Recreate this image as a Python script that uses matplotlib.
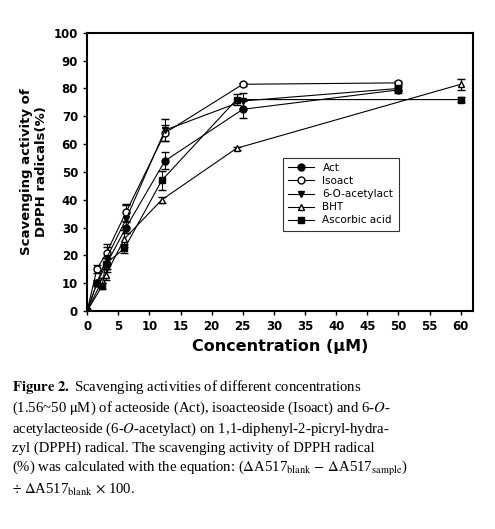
import matplotlib.pyplot as plt
from matplotlib.lines import Line2D

plt.rcParams['mathtext.fontset'] = 'stix'

# concentrations (uM)
x_cmp = [0, 1.56, 3.125, 6.25, 12.5, 25, 50]
x_ref = [0, 2.4, 3, 6, 12, 24, 60]

act = [0, 10, 17, 30, 54, 72.5, 79.5]
act_err = [0, 1, 2, 2, 3, 3, 1]
isoact = [0, 15, 21, 35.5, 64, 81.5, 82]
isoact_err = [0, 1.5, 2, 3, 3, 0.5, 0.5]
acetyl = [0, 10, 19, 33, 65, 75.5, 80]
acetyl_err = [0, 1, 5, 5, 4, 3, 1]
bht = [0, 11, 13, 26, 40, 58.5, 81.5]
bht_err = [0, 1, 2, 3, 1, 0.5, 2]
asc = [0, 9, 17, 22.5, 47, 76, 76]
asc_err = [0, 1, 2, 1.5, 3.5, 2, 1]

fig = plt.figure(figsize=(4.95, 5.29), dpi=100)
ax = fig.add_axes([0.176, 0.412, 0.78, 0.526])

series = [
    (x_cmp, act, act_err, 'o', 'black', 'Act'),
    (x_cmp, isoact, isoact_err, 'o', 'white', 'Isoact'),
    (x_cmp, acetyl, acetyl_err, 'v', 'black', '6-O-acetylact'),
    (x_ref, bht, bht_err, '^', 'white', 'BHT'),
    (x_ref, asc, asc_err, 's', 'black', 'Ascorbic acid'),
]
handles = []
for xs, ys, es, m, fc, lab in series:
    ax.errorbar(xs, ys, yerr=es, marker=m, mfc=fc, mec='black', color='black',
                ms=5, lw=0.8, elinewidth=0.8, capsize=3)
    handles.append(Line2D([], [], marker=m, mfc=fc, mec='black', color='black',
                          ms=5, lw=0.8, label=lab))

ax.set_xlim(0, 62)
ax.set_ylim(0, 100)
ax.set_xticks(range(0, 61, 5))
ax.set_yticks(range(0, 101, 10))
for s in ax.spines.values():
    s.set_linewidth(1.5)
ax.tick_params(labelsize=8.5, width=1, length=3)
for t in ax.get_xticklabels() + ax.get_yticklabels():
    t.set_fontweight('bold')
ax.set_xlabel('Concentration (\u03bcM)', fontsize=11.5, fontweight='bold')
ax.set_ylabel('Scavenging activity of\nDPPH radicals(%)', fontsize=9.5, fontweight='bold')
leg = ax.legend(handles=handles, loc='center right', bbox_to_anchor=(0.82, 0.42),
                fontsize=7.5, fancybox=False, edgecolor='black', handlelength=2.5,
                labelspacing=0.3, borderpad=0.5)
leg.get_frame().set_linewidth(0.8)

caption = (r"$\mathbf{Figure\ 2.}$ Scavenging activities of different concentrations" "\n"
           r"(1.56~50 $\mathrm{\mu}$M) of acteoside (Act), isoacteoside (Isoact) and 6-$O$-" "\n"
           r"acetylacteoside (6-$O$-acetylact) on 1,1-diphenyl-2-picryl-hydra-" "\n"
           r"zyl (DPPH) radical. The scavenging activity of DPPH radical" "\n"
           r"(%) was calculated with the equation: ($\Delta$A517$_{\rm blank}$ $-$ $\Delta$A517$_{\rm sample}$)" "\n"
           r"$\div$ $\Delta$A517$_{\rm blank}$ $\times$ 100.")
fig.text(0.025, 0.285, caption, fontsize=10.6, family='Liberation Serif',
         va='top', ha='left', linespacing=1.3)

fig.savefig('out.png', dpi=100)
